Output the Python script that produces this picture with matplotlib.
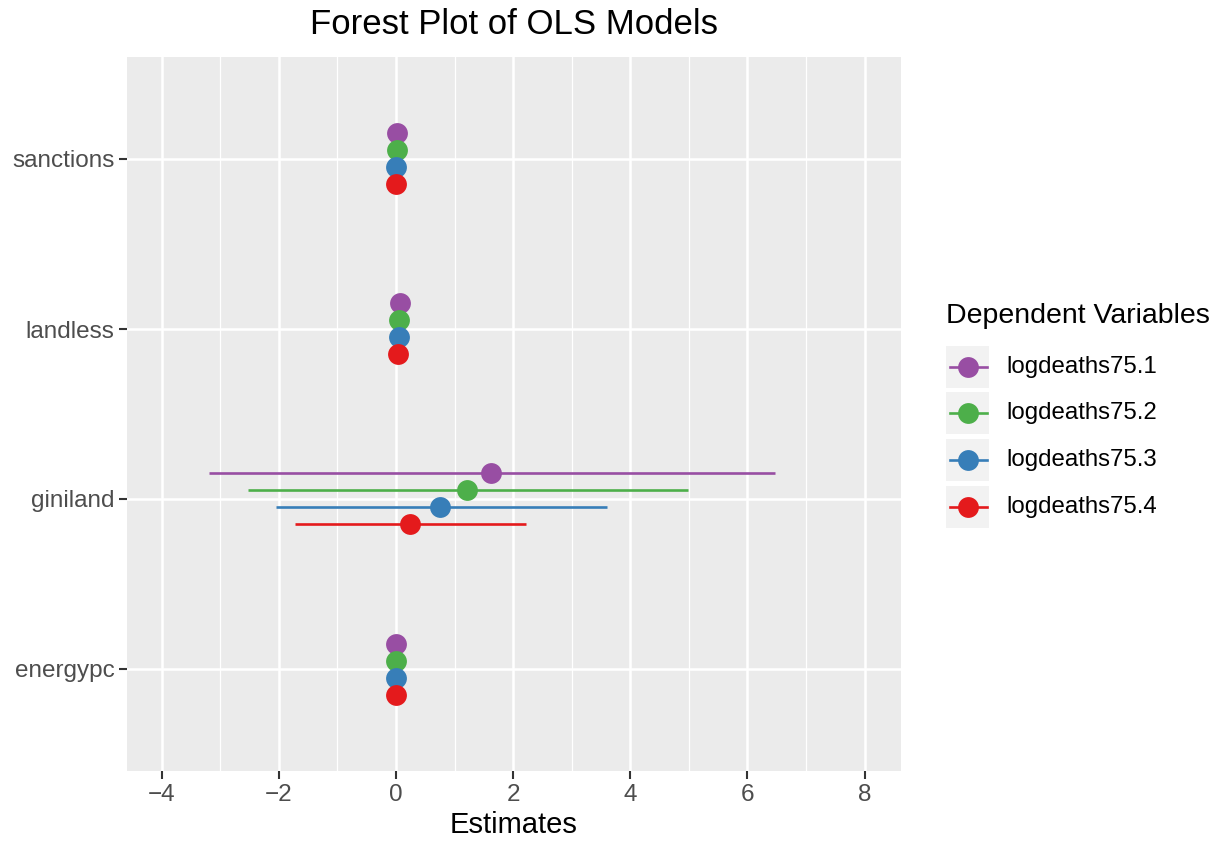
import matplotlib
matplotlib.use("Agg")
import matplotlib.pyplot as plt
from matplotlib.patches import Rectangle
import numpy as np

plt.rcParams['font.family'] = ['Liberation Sans', 'DejaVu Sans']

terms = ["energypc", "giniland", "landless", "sanctions"]
models = ["logdeaths75.1", "logdeaths75.2", "logdeaths75.3", "logdeaths75.4"]
colors = ["#984EA3", "#4DAF4A", "#377EB8", "#E41A1C"]

# estimates per model, in the order of `terms`
estimates = {
    "logdeaths75.1": [0.00, 1.62, 0.07, 0.01],
    "logdeaths75.2": [0.00, 1.21, 0.05, 0.01],
    "logdeaths75.3": [0.00, 0.75, 0.05, 0.00],
    "logdeaths75.4": [0.00, 0.24, 0.04, 0.00],
}
ci_low = {
    "logdeaths75.1": [-0.01, -3.19, 0.04, 0.00],
    "logdeaths75.2": [-0.01, -2.53, 0.03, 0.00],
    "logdeaths75.3": [-0.01, -2.05, 0.03, -0.01],
    "logdeaths75.4": [-0.01, -1.72, 0.02, -0.01],
}
ci_high = {
    "logdeaths75.1": [0.01, 6.47, 0.10, 0.02],
    "logdeaths75.2": [0.01, 4.98, 0.08, 0.02],
    "logdeaths75.3": [0.01, 3.60, 0.08, 0.01],
    "logdeaths75.4": [0.01, 2.22, 0.06, 0.01],
}
xticks = [-4, -2, 0, 2, 4, 6, 8]

W, H = 1227, 846
fig = plt.figure(figsize=(W / 100, H / 100), dpi=100)
ax = fig.add_axes([127 / W, 75 / H, (901 - 127) / W, (771 - 57) / H])
ax.set_facecolor("#EBEBEB")
for s in ax.spines.values():
    s.set_visible(False)

ax.set_xlim(-4.59, 8.62)
ax.set_ylim(0.4, 4.6)

# grid
for v in np.arange(-3, 9, 2):
    ax.axvline(v, color="white", lw=0.9, zorder=0)
for v in xticks:
    ax.axvline(v, color="white", lw=1.8, zorder=0)
ypos = np.arange(1, len(terms) + 1)
for v in ypos:
    ax.axhline(v, color="white", lw=1.8, zorder=0)

offsets = [0.15, 0.05, -0.05, -0.15]
for m, c, off in zip(models, colors, offsets):
    y = ypos + off
    ax.hlines(y, ci_low[m], ci_high[m], color=c, lw=1.9, zorder=2)
    ax.plot(estimates[m], y, "o", color=c, ms=15, mec="none", zorder=3)

ax.set_xticks(xticks)
ax.set_xticklabels([str(t).replace("-", "\u2212") for t in xticks])
ax.set_yticks(ypos)
ax.set_yticklabels(terms)
ax.tick_params(axis="both", colors="#333333", length=6, width=1.5,
               labelsize=17.5, labelcolor="#4D4D4D", pad=3)

ax.set_xlabel("Estimates", fontsize=21, color="black", labelpad=4)
fig.text(514 / W, 1 - 24 / H, "Forest Plot of OLS Models", fontsize=25,
         ha="center", va="center")

# legend, laid out in figure pixels
lax = fig.add_axes([0, 0, 1, 1], facecolor="none")
lax.set_xlim(0, W)
lax.set_ylim(H, 0)
lax.axis("off")
lax.text(946, 316, "Dependent Variables", fontsize=20.5, ha="left",
         va="center")
key_y = [367, 413, 460, 507]
for m, c, yy in zip(models, colors, key_y):
    lax.add_patch(Rectangle((946, yy - 21), 43, 42, facecolor="#F2F2F2",
                            edgecolor="none"))
    lax.plot([950, 987], [yy, yy], color=c, lw=1.9)
    lax.plot([967.5], [yy], "o", color=c, ms=15, mec="none")
    lax.text(1006, yy, m, fontsize=17.3, ha="left", va="center")

fig.savefig("out.png", dpi=100)
